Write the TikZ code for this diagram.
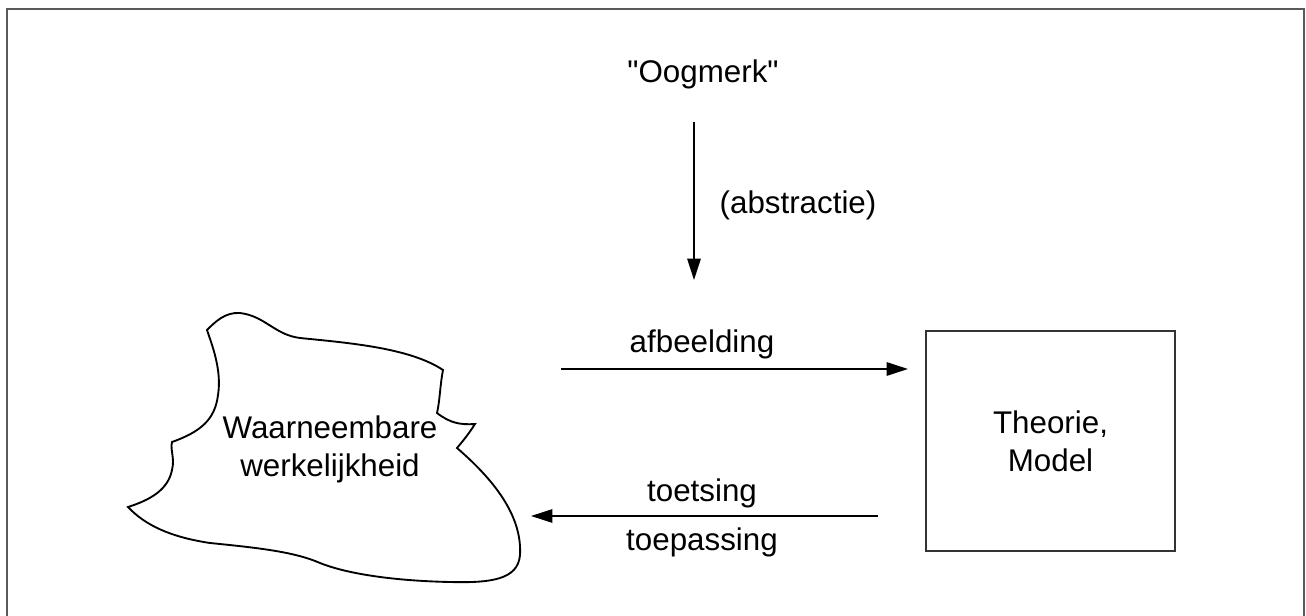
\documentclass[tikz,border=0pt]{standalone}
\usepackage{fontspec}
\setmainfont{Liberation Sans}
\usetikzlibrary{arrows.meta}
\tikzset{
  label text/.style={font=\fontsize{23.5}{28.5}\selectfont, inner sep=0pt, align=center},
  flow/.style={line width=1.4pt, -{Triangle[length=16pt,width=10pt]}},
  outline/.style={line width=1.4pt, line join=miter},
  frame/.style={line width=1.5pt, draw=black!65},
}
\begin{document}
\begin{tikzpicture}[x=0.75pt,y=-0.75pt]
  \useasboundingbox (0,0) rectangle (1306,616);
  % open frame
  \draw[frame] (7,616) -- (7,9) -- (1304,9) -- (1304,616);

  % observable reality: irregular outline
  \draw[outline] (207,330)
    .. controls (215,322) and (225,312) .. (240,313)
    .. controls (265,316) and (275,335) .. (300,338)
    .. controls (350,343) and (410,348) .. (443,370)
    .. controls (440,385) and (440,400) .. (437,413)
    .. controls (450,423) and (460,425) .. (475,424)
    .. controls (468,435) and (462,442) .. (457,448)
    .. controls (500,485) and (522,520) .. (520,555)
    .. controls (518,580) and (490,583) .. (450,582)
    .. controls (400,581) and (350,575) .. (320,563)
    .. controls (295,552) and (260,548) .. (210,543)
    .. controls (170,537) and (145,525) .. (128,507)
    .. controls (150,500) and (168,490) .. (172,470)
    .. controls (175,458) and (170,450) .. (172,442)
    .. controls (200,432) and (215,420) .. (218,395)
    .. controls (222,370) and (212,345) .. (207,330) -- cycle;
  \node[label text] (real) at (330,449) {Waarneembare\\werkelijkheid};

  % theory / model box
  \node[draw=black!80, line width=1.2pt, minimum width=186.75pt, minimum height=165pt, inner sep=0pt]
    (model) at (1050.5,441) {};
  \node[label text] (modeltext) at (model.center) {Theorie,\\Model};

  % aim and abstraction
  \node[label text] (aim) at (703,74) {\textquotedbl Oogmerk\textquotedbl};
  \coordinate (absTop) at (694,122);
  \coordinate (absEnd) at (694,280);
  \draw[flow] (absTop) -- (absEnd);
  \node[label text] (abs) at (798,205) {(abstractie)};

  % mapping arrow
  \coordinate (mapStart) at (561,369);
  \coordinate (mapEnd) at (908,369);
  \draw[flow] (mapStart) -- (mapEnd);
  \node[label text] (map) at (702,344) {afbeelding};

  % testing / application arrow
  \coordinate (testStart) at (878,516);
  \coordinate (testEnd) at (531,516);
  \draw[flow] (testStart) -- (testEnd);
  \node[label text] (test) at (702,493) {toetsing};
  \node[label text] (apply) at (702,542) {toepassing};
\end{tikzpicture}
\end{document}
